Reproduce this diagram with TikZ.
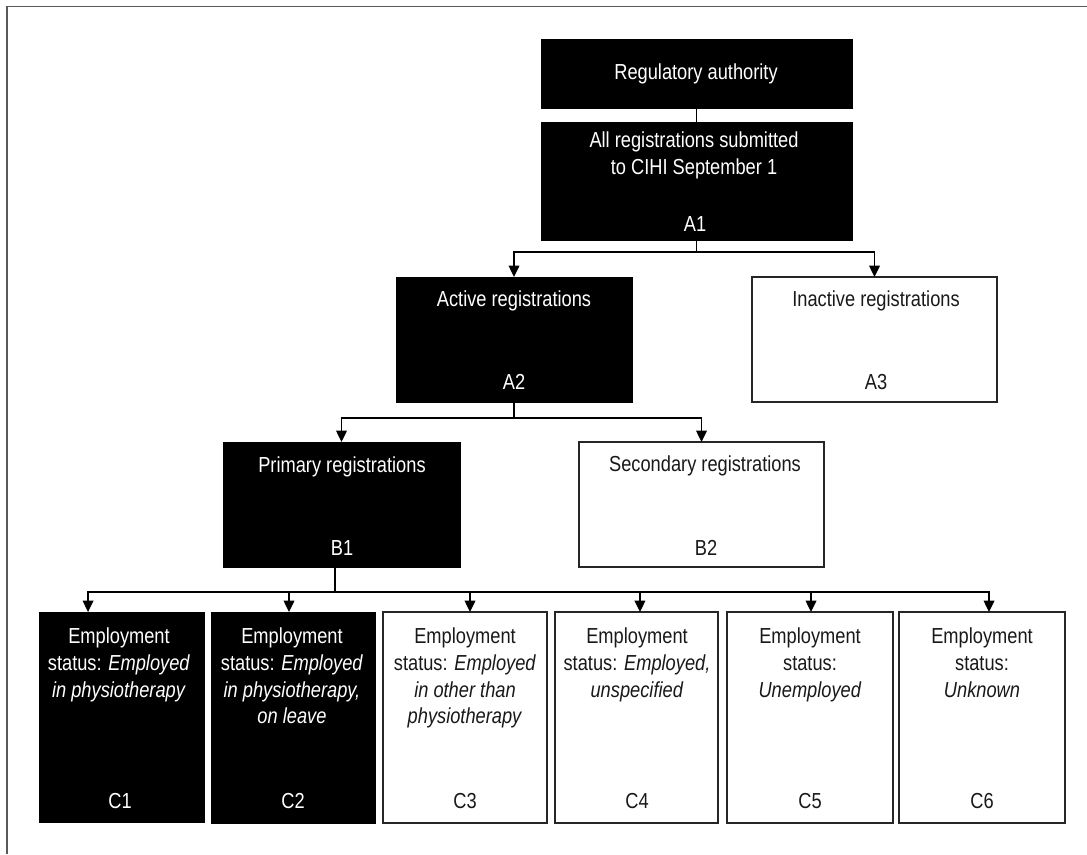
\documentclass[tikz,border=0pt]{standalone}
\usepackage{fontspec}
\setmainfont{Liberation Sans}[FakeStretch=0.84]
\usetikzlibrary{arrows.meta}
\begin{document}
\begin{tikzpicture}[x=0.75pt,y=-0.75pt,
  blk/.style={fill=black,draw=black,line width=0.6pt,inner sep=0pt,outer sep=0pt},
  wht/.style={fill=white,draw=black!85,line width=1.1pt,inner sep=0pt,outer sep=0pt},
  txt/.style={inner sep=0pt,align=center,font=\fontsize{16.3}{20}\selectfont},
  wtxt/.style={txt,text=white},
  btxt/.style={txt,text=black!90},
  conn/.style={draw=black,line width=1pt},
  arr/.style={conn,-{Triangle[length=8.5pt,width=8pt]}},
  framel/.style={draw=black!65,line width=1.1pt}]
\useasboundingbox (0,0) rectangle (1087,854);
% frame
\draw[framel] (7,854) -- (7,6.5) -- (1087,6.5);
% boxes
\node[blk,minimum width=233.25pt,minimum height=51.75pt] (RA) at (696.5,73.5) {};
\node[blk,minimum width=233.25pt,minimum height=88.5pt] (A1) at (696.5,181) {};
\node[blk,minimum width=177pt,minimum height=93.75pt] (A2) at (514,339.5) {};
\node[wht,minimum width=183.75pt,minimum height=93.75pt] (A3) at (874.5,339.5) {};
\node[blk,minimum width=177.75pt,minimum height=93.75pt] (B1) at (341.5,504.5) {};
\node[wht,minimum width=183.75pt,minimum height=93.75pt] (B2) at (701.5,504.5) {};
\node[blk,minimum width=123.75pt,minimum height=157.5pt] (C1) at (121.5,717) {};
\node[blk,minimum width=123pt,minimum height=158.25pt] (C2) at (293,717.5) {};
\node[wht,minimum width=123pt,minimum height=158.25pt] (C3) at (465,717.5) {};
\node[wht,minimum width=122.25pt,minimum height=158.25pt] (C4) at (636.5,717.5) {};
\node[wht,minimum width=124.5pt,minimum height=158.25pt] (C5) at (810,717.5) {};
\node[wht,minimum width=124.5pt,minimum height=158.25pt] (C6) at (982,717.5) {};
% texts
\node[wtxt] (tRA) at (696,74) {Regulatory authority};
\node[wtxt,anchor=north] (tA1) at (694,129) {\strut All registrations submitted\\to CIHI September 1};
\node[wtxt] (lA1) at (695,224) {A1};
\node[wtxt] (tA2) at (514,301) {Active registrations};
\node[wtxt] (lA2) at (514,382) {A2};
\node[btxt] (tA3) at (876,301) {Inactive registrations};
\node[btxt] (lA3) at (876,382) {A3};
\node[wtxt] (tB1) at (342,467) {Primary registrations};
\node[wtxt] (lB1) at (342,548) {B1};
\node[btxt] (tB2) at (705,466) {Secondary registrations};
\node[btxt] (lB2) at (706,548) {B2};
\node[wtxt,anchor=north] (tC1) at (119,625) {\strut Employment\\status: \textit{Employed}\\\textit{in physiotherapy}};
\node[wtxt] (lC1) at (120,801) {C1};
\node[wtxt,anchor=north] (tC2) at (292,625) {\strut Employment\\status: \textit{Employed}\\\textit{in physiotherapy,}\\\textit{on leave}};
\node[wtxt] (lC2) at (293,801) {C2};
\node[btxt,anchor=north] (tC3) at (465,625) {\strut Employment\\status: \textit{Employed}\\\textit{in other than}\\\textit{physiotherapy}};
\node[btxt] (lC3) at (465,801) {C3};
\node[btxt,anchor=north] (tC4) at (637,625) {\strut Employment\\status: \textit{Employed,}\\\textit{unspecified}};
\node[btxt] (lC4) at (637,801) {C4};
\node[btxt,anchor=north] (tC5) at (810,625) {\strut Employment\\status:\\\textit{Unemployed}};
\node[btxt] (lC5) at (810,801) {C5};
\node[btxt,anchor=north] (tC6) at (982,625) {\strut Employment\\status:\\\textit{Unknown}};
\node[btxt] (lC6) at (982,801) {C6};
% connectors
\draw[conn] (RA.south) -- (A1.north);
\coordinate (j1) at (696.5,252);
\draw[conn] (A1.south) -- (j1);
\draw[arr] (j1) -| (A2.north);
\draw[arr] (j1) -| (A3.north);
\coordinate (j2) at (514,418);
\draw[conn] (A2.south) -- (j2);
\draw[arr] (j2) -| (B1.north);
\draw[arr] (j2) -| (B2.north);
\coordinate (j3) at (335,592);
\draw[conn] (j3 |- B1.south) -- (j3);
\draw[arr] (j3) -| ([xshift=-25.1pt]C1.north);
\draw[arr] (j3) -| ([xshift=-3pt]C2.north);
\draw[arr] (j3) -| ([xshift=3.75pt]C3.north);
\draw[arr] (j3) -| ([xshift=2.6pt]C4.north);
\draw[arr] (j3) -| ([xshift=0.75pt]C5.north);
\draw[arr] (j3) -| ([xshift=5.25pt]C6.north);
\end{tikzpicture}
\end{document}
